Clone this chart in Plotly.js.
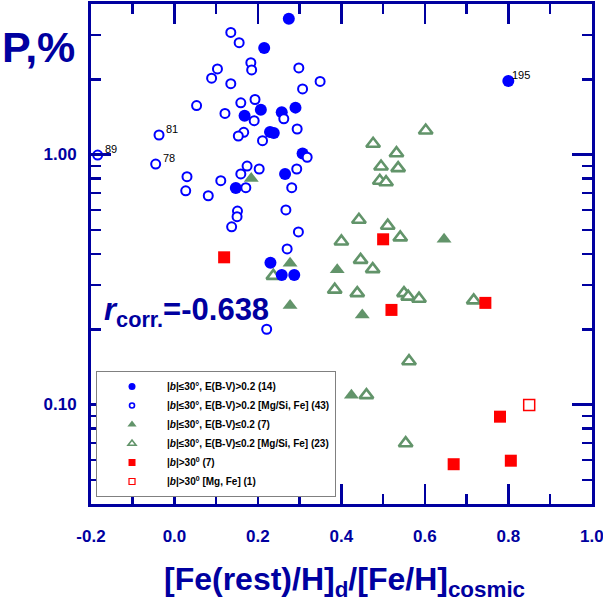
<!DOCTYPE html>
<html>
<head>
<meta charset="utf-8">
<script src="https://cdn.plot.ly/plotly-3.0.1.min.js"></script>
<style>html,body{margin:0;padding:0;background:#fff;}#chart{width:603px;height:607px;}</style>
</head>
<body>
<div id="chart"></div>
<script>
// ---- data ----
const fbX = [0.274,0.215,0.207,0.257,0.290,0.168,0.229,0.238,0.307,0.265,0.147,0.230,0.257,0.287,0.800];
const fbY = [3.49,2.67,1.51,1.475,1.54,1.43,1.23,1.22,1.01,0.836,0.735,0.369,0.330,0.330,1.97];

const obX = [0.135,0.155,0.183,0.185,0.103,0.089,0.135,0.298,0.307,0.349,0.053,0.159,0.193,0.121,0.191,0.262,0.294,0.166,0.153,0.211,-0.037,-0.045,0.318,0.174,0.203,0.159,0.293,0.111,0.030,0.027,0.081,0.171,0.281,0.151,0.150,0.267,0.137,0.297,-0.184,0.270,0.221];
const obY = [3.08,2.80,2.33,2.18,2.20,2.02,1.92,2.22,1.83,1.96,1.57,1.61,1.66,1.46,1.365,1.39,1.265,1.227,1.186,1.136,1.197,0.916,0.975,0.899,0.875,0.836,0.875,0.786,0.815,0.716,0.684,0.737,0.737,0.594,0.564,0.600,0.514,0.490,0.995,0.419,0.200];

const gfX = [0.184,0.277,0.277,0.646,0.390,0.450,0.424];
const gfY = [0.802,0.367,0.249,0.458,0.346,0.228,0.109];

const goX = [0.602,0.476,0.532,0.495,0.536,0.492,0.507,0.442,0.511,0.400,0.541,0.446,0.475,0.384,0.438,0.550,0.560,0.586,0.717,0.237,0.562,0.460,0.554];
const goY = [1.247,1.104,1.012,0.895,0.882,0.785,0.775,0.548,0.519,0.449,0.466,0.379,0.348,0.288,0.279,0.279,0.270,0.265,0.261,0.327,0.149,0.109,0.070];

const rfX = [0.119,0.500,0.520,0.745,0.780,0.669,0.806];
const rfY = [0.388,0.458,0.239,0.255,0.0894,0.0577,0.0596];

const roX = [0.850];
const roY = [0.0995];

// labelled points: [text, series, index]
const pointLabels = [["195","fb",14],["89","ob",38],["81","ob",20],["78","ob",21]];

const legendNames = [
  "|<i>b</i>|≤30°, E(B-V)>0.2 (14)",
  "|<i>b</i>|≤30°, E(B-V)>0.2 [Mg/Si, Fe] (43)",
  "|<i>b</i>|≤30°, E(B-V)≤0.2 (7)",
  "|<i>b</i>|≤30°, E(B-V)≤0.2 [Mg/Si, Fe] (23)",
  "|<i>b</i>|>30<sup>0</sup> (7)",
  "|<i>b</i>|>30<sup>0</sup> [Mg, Fe] (1)"
];

const xTickVals = [-0.2,0.0,0.2,0.4,0.6,0.8,1.0];
const xTickText = ["-0.2","0.0","0.2","0.4","0.6","0.8","1.0"];
const xMinorVals = [-0.1,0.1,0.3,0.5,0.7,0.9];
const yTickVals = [0.1,1.0];
const yTickText = ["0.10","1.00"];
const yMinorVals = [0.04,0.05,0.06,0.07,0.08,0.09,0.2,0.3,0.4,0.5,0.6,0.7,0.8,0.9,2,3];

// ---- styles ----
const NAVY = '#0000A0';
const BLUE = '#0000FF';
const GREEN = '#62946a';
const RED = '#FF0000';
const FONT = 'Liberation Sans, Arial, Helvetica, sans-serif';

const series = {fb:[fbX,fbY], ob:[obX,obY]};

const traces = [
  {x:goX, y:goY, mode:'markers', type:'scatter', showlegend:false, cliponaxis:false,
   marker:{symbol:'triangle-up', size:12, color:'#ffffff', line:{color:GREEN, width:2.6}}},
  {x:gfX, y:gfY, mode:'markers', type:'scatter', showlegend:false, cliponaxis:false,
   marker:{symbol:'triangle-up', size:13, color:GREEN, line:{width:0}}},
  {x:rfX, y:rfY, mode:'markers', type:'scatter', showlegend:false, cliponaxis:false,
   marker:{symbol:'square', size:12, color:RED, line:{width:0}}},
  {x:roX, y:roY, mode:'markers', type:'scatter', showlegend:false, cliponaxis:false,
   marker:{symbol:'square', size:11, color:'#ffffff', line:{color:RED, width:1.5}}},
  {x:fbX, y:fbY, mode:'markers', type:'scatter', showlegend:false, cliponaxis:false,
   marker:{symbol:'circle', size:12, color:BLUE, line:{width:0}}},
  {x:obX, y:obY, mode:'markers', type:'scatter', showlegend:false, cliponaxis:false,
   marker:{symbol:'circle', size:9, color:'#ffffff', line:{color:BLUE, width:2}}},
  // legend entries
  {x:[null], y:[null], mode:'markers', type:'scatter', name:legendNames[0],
   marker:{symbol:'circle', size:7, color:BLUE, line:{width:0}}},
  {x:[null], y:[null], mode:'markers', type:'scatter', name:legendNames[1],
   marker:{symbol:'circle', size:5, color:'#ffffff', line:{color:BLUE, width:1.6}}},
  {x:[null], y:[null], mode:'markers', type:'scatter', name:legendNames[2],
   marker:{symbol:'triangle-up', size:8, color:GREEN, line:{width:0}}},
  {x:[null], y:[null], mode:'markers', type:'scatter', name:legendNames[3],
   marker:{symbol:'triangle-up', size:7, color:'#ffffff', line:{color:GREEN, width:1.6}}},
  {x:[null], y:[null], mode:'markers', type:'scatter', name:legendNames[4],
   marker:{symbol:'square', size:7, color:RED, line:{width:0}}},
  {x:[null], y:[null], mode:'markers', type:'scatter', name:legendNames[5],
   marker:{symbol:'square', size:6, color:'#ffffff', line:{color:RED, width:1.2}}}
];

const annotations = pointLabels.map(function(p){
  const s = series[p[1]];
  return {x:s[0][p[2]], y:Math.log10(s[1][p[2]]), xref:'x', yref:'y', text:p[0], showarrow:false,
          xshift:13, yshift:6, xanchor:'center', yanchor:'middle',
          font:{family:FONT, size:11, color:'#000000'}};
});
annotations.push(
  {xref:'paper', yref:'paper', x:-0.1816, y:0.914, xanchor:'left', yanchor:'middle', showarrow:false,
   text:'P,%', font:{family:FONT, size:43, color:NAVY, weight:'bold'}},
  {xref:'paper', yref:'paper', x:0.022, y:0.385, xanchor:'left', yanchor:'middle', showarrow:false,
   text:'<i>r</i><sub>corr.</sub>=-0.638', font:{family:FONT, size:31, color:NAVY, weight:'bold'}},
  {xref:'paper', yref:'paper', x:0.505, y:-0.155, xanchor:'center', yanchor:'middle', showarrow:false,
   text:'[Fe(rest)/H]<sub>d</sub>/[Fe/H]<sub>cosmic</sub>', font:{family:FONT, size:32, color:NAVY, weight:'bold'}}
);

const tickFont = {family:FONT, size:17, color:NAVY, weight:'bold'};

const layout = {
  width:603, height:607,
  margin:{l:91, r:11, t:4, b:103, pad:0},
  paper_bgcolor:'#ffffff', plot_bgcolor:'#ffffff',
  showlegend:true,
  xaxis:{range:[-0.2,1.0005], tickmode:'array', tickvals:xTickVals, ticktext:xTickText,
         ticks:'inside', ticklen:20, tickwidth:2.5, tickcolor:NAVY,
         showline:true, linewidth:3, linecolor:NAVY, mirror:'allticks',
         showgrid:false, zeroline:false, tickfont:tickFont, ticklabelstandoff:15,
         ticklabeloverflow:'allow',
         minor:{tickmode:'array', tickvals:xMinorVals, ticks:'inside', ticklen:10, tickwidth:2.5, tickcolor:NAVY, showgrid:false}},
  yaxis:{type:'log', range:[Math.log10(0.04), Math.log10(4)], tickmode:'array', tickvals:yTickVals, ticktext:yTickText,
         ticks:'inside', ticklen:20, tickwidth:2.5, tickcolor:NAVY,
         showline:true, linewidth:3, linecolor:NAVY, mirror:'allticks',
         showgrid:false, zeroline:false, tickfont:tickFont, ticklabelstandoff:8,
         minor:{tickmode:'array', tickvals:yMinorVals, ticks:'inside', ticklen:10, tickwidth:2.5, tickcolor:NAVY, showgrid:false}},
  legend:{x:0.010, y:0.266, xanchor:'left', yanchor:'top', bgcolor:'#ffffff', bordercolor:'#808080', borderwidth:1,
          itemwidth:60, font:{family:FONT, size:10, color:'#000000', weight:'bold'}},
  annotations:annotations
};

Plotly.newPlot('chart', traces, layout, {staticPlot:true, displayModeBar:false});
</script>
</body>
</html>
